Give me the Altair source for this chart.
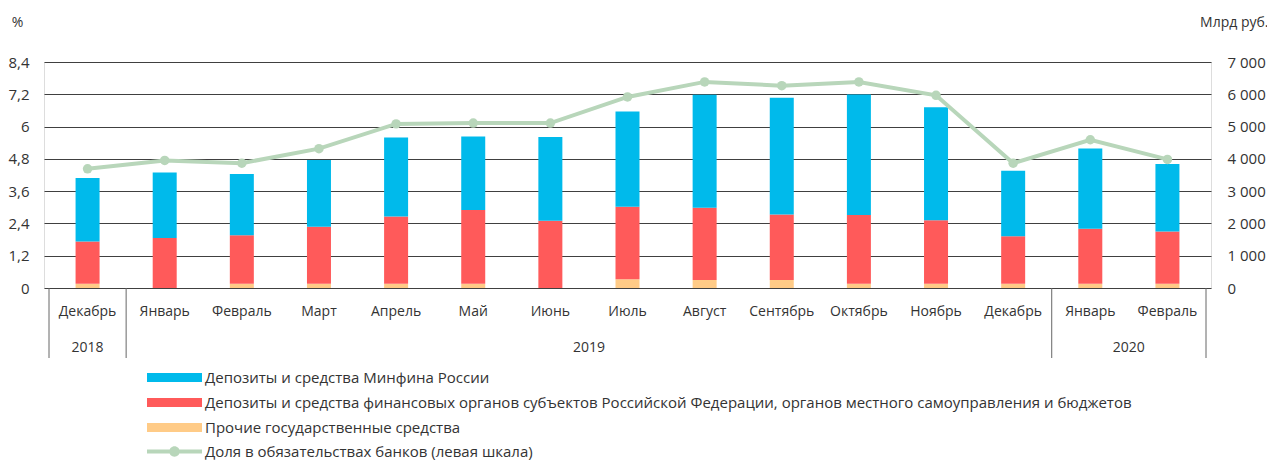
import altair as alt
import pandas as pd

FONT = "Open Sans"
TXT = "#333333"
GRID = "#404040"

months = ["Декабрь", "Январь", "Февраль", "Март", "Апрель", "Май", "Июнь", "Июль",
          "Август", "Сентябрь", "Октябрь", "Ноябрь", "Декабрь", "Январь", "Февраль"]
years = ["2018", "2019", "2020"]
year_start = [0, 1, 13]
year_end = [1, 13, 15]

blue_name = "Депозиты и средства Минфина России"
red_name = "Депозиты и средства финансовых органов субъектов Российской Федерации, органов местного самоуправления и бюджетов"
orange_name = "Прочие государственные средства"
line_name = "Доля в обязательствах банков (левая шкала)"

# Млрд руб.
minfin = [1970, 2035, 1895, 2070, 2445, 2275, 2600, 2950, 3500, 3610, 3735, 3500, 2030, 2485, 2090]
regions = [1310, 1545, 1505, 1765, 2085, 2285, 2080, 2245, 2235, 2030, 2130, 1970, 1475, 1705, 1620]
other = [130, 0, 130, 130, 130, 130, 0, 270, 250, 250, 130, 130, 130, 130, 130]
# %
share = [4.43, 4.74, 4.64, 5.18, 6.10, 6.13, 6.13, 7.10, 7.66, 7.52, 7.66, 7.16, 4.64, 5.51, 4.78]

left_ticks = [0, 1.2, 2.4, 3.6, 4.8, 6, 7.2, 8.4]
right_ticks = [0, 1000, 2000, 3000, 4000, 5000, 6000, 7000]

W, H = 1167, 226

rows = []
for i in range(len(months)):
    for name, vals, o in [(orange_name, other, 0), (red_name, regions, 1), (blue_name, minfin, 2)]:
        rows.append({"xc": i + 0.5, "series": name, "value": vals[i], "ord": o})
bars_df = pd.DataFrame(rows)

line_df = pd.DataFrame({"xc": [i + 0.5 for i in range(len(months))], "share": share,
                        "name": [line_name] * len(months)})
month_df = pd.DataFrame({"xc": [i + 0.5 for i in range(len(months))], "month": months})
year_df = pd.DataFrame({"xc": [(a + b) / 2 for a, b in zip(year_start, year_end)], "year": years})
sep_df = pd.DataFrame({"xs": sorted(set(year_start + year_end))})

xscale = alt.Scale(domain=[0, 15], nice=False, zero=False)

rect_path = "M-5,-0.8H5V0.8H-5Z"
line_path = "M-5,-0.35H5V0.35H-5Z M0.95,0 A0.95,0.95 0 1 1 -0.95,0 A0.95,0.95 0 1 1 0.95,0 Z"

bars = alt.Chart(bars_df).mark_bar(size=24).encode(
    x=alt.X("xc:Q", scale=xscale,
            axis=alt.Axis(values=list(range(16)), grid=True, labels=False, ticks=False,
                          domain=False, title=None, gridColor=GRID, gridWidth=1, gridOpacity=1)),
    y=alt.Y("value:Q", stack="zero",
            scale=alt.Scale(domain=[0, 7000], nice=False),
            axis=alt.Axis(orient="right", values=right_ticks, grid=False, ticks=False, domain=False,
                          labelExpr="replace(format(datum.value, ',d'), ',', ' ')",
                          labelPadding=16, labelFont=FONT, labelFontSize=15, labelColor=TXT,
                          title="Млрд руб.", titleAngle=0, titleX=57, titleY=-40,
                          titleAlign="right", titleBaseline="middle", titleFont=FONT,
                          titleFontSize=14, titleFontWeight="normal", titleColor=TXT)),
    color=alt.Color("series:N",
                    scale=alt.Scale(domain=[blue_name, red_name, orange_name],
                                    range=["#00BAEB", "#FF5A5A", "#FFCB87"]),
                    legend=alt.Legend(orient="none", legendX=123, legendY=308, title=None,
                                      symbolType=rect_path, symbolSize=121, symbolStrokeWidth=0,
                                      labelFont=FONT, labelFontSize=15, labelColor=TXT,
                                      labelOffset=23, labelLimit=2000, rowPadding=9)),
    order=alt.Order("ord:Q"),
)

line = alt.Chart(line_df).mark_line(strokeWidth=4).encode(
    x=alt.X("xc:Q", scale=xscale, axis=None),
    y=alt.Y("share:Q", scale=alt.Scale(domain=[0, 8.4], nice=False),
            axis=alt.Axis(orient="left", values=left_ticks, grid=True, gridColor=GRID,
                          gridWidth=1, gridOpacity=1, ticks=False, domain=False,
                          labelExpr="replace(format(datum.value, '.1~f'), '.', ',')",
                          labelPadding=15, labelFont=FONT, labelFontSize=15, labelColor=TXT,
                          title="%", titleAngle=0, titleX=-27, titleY=-40,
                          titleAlign="center", titleBaseline="middle", titleFont=FONT,
                          titleFontSize=14, titleFontWeight="normal", titleColor=TXT)),
    stroke=alt.Stroke("name:N", scale=alt.Scale(domain=[line_name], range=["#B8D6BA"]),
                      legend=alt.Legend(orient="none", legendX=123, legendY=382, title=None,
                                        symbolType=line_path, symbolSize=121,
                                        symbolFillColor="#B8D6BA", symbolStrokeWidth=0,
                                        labelFont=FONT, labelFontSize=15, labelColor=TXT,
                                        labelOffset=23, labelLimit=2000)),
)

points = alt.Chart(line_df).mark_circle(size=90, opacity=1, color="#B8D6BA").encode(
    x=alt.X("xc:Q", scale=xscale, axis=None),
    y=alt.Y("share:Q", scale=alt.Scale(domain=[0, 8.4], nice=False), axis=None),
)

month_text = alt.Chart(month_df).mark_text(font=FONT, fontSize=14, color=TXT, baseline="middle").encode(
    x=alt.X("xc:Q", scale=xscale, axis=None),
    y=alt.value(H + 24),
    text="month:N",
)

year_text = alt.Chart(year_df).mark_text(font=FONT, fontSize=14, color=TXT, baseline="middle").encode(
    x=alt.X("xc:Q", scale=xscale, axis=None),
    y=alt.value(H + 60),
    text="year:N",
)

seps = alt.Chart(sep_df).mark_rule(color="#666666", strokeWidth=1).encode(
    x=alt.X("xs:Q", scale=xscale, axis=None),
    y=alt.value(H),
    y2=alt.value(H + 70),
)

chart = alt.layer(bars, line, points, seps, month_text, year_text).resolve_scale(
    y="independent", color="independent", stroke="independent"
).properties(
    width=W, height=H,
    autosize=alt.AutoSizeParams(type="none"),
    padding={"left": 36, "top": 54, "right": 56, "bottom": 172},
).configure_view(strokeWidth=0).configure(background="white")

chart.save("out.html", embed_options={"renderer": "svg", "actions": False})
